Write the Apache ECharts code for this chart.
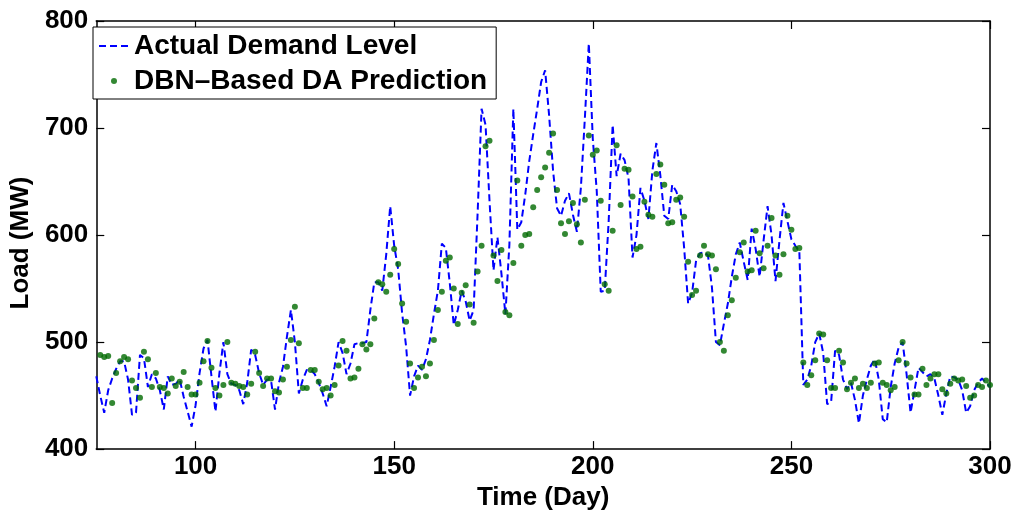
<!DOCTYPE html>
<html>
<head>
<meta charset="utf-8">
<script src="https://cdn.jsdelivr.net/npm/echarts@6/dist/echarts.min.js"></script>
<style>
html,body{margin:0;padding:0;background:#fff;}
#chart{width:1018px;height:516px;}
</style>
</head>
<body>
<div id="chart"></div>
<script>
// ---- data ----
const actualStartDay = 75;
const predStartDay = 76;
const actualLoad = [
  468,450,434,455,466,475,482,482,465,432,434,488,485,458,470,466,455,437,468,460,461,465,449,435,421,441,471,494,502,468,435,471,500,470,461,460,455,442,
  462,493,488,471,460,465,464,437,462,477,505,530,500,452,465,474,474,470,462,452,440,458,477,500,490,470,480,498,499,499,500,530,556,556,548,582,627,
  590,568,527,496,450,468,478,474,484,502,526,548,592,588,555,516,530,548,538,520,530,620,718,703,632,567,598,564,526,591,718,605,612,638,669,694,718,743,754,
  712,660,625,618,632,639,619,603,644,709,779,690,641,547,548,613,703,655,676,670,653,579,600,644,632,615,660,686,656,618,615,647,641,629,588,536,546,
  576,583,584,581,551,500,497,517,536,561,582,593,575,558,606,587,561,595,627,600,557,595,630,613,596,590,585,
  460,465,478,500,508,490,442,444,492,488,465,456,462,446,424,450,465,478,484,465,428,425,458,480,495,500,470,434,455,476,472,468,470,466,450,432,452,468,467,465,455,434,440,455,462,466,462,458
];
const predictedLoad = [
  488,486,487,443,471,482,486,484,464,457,448,491,484,458,471,458,457,452,466,459,463,472,458,451,451,462,482,501,476,457,450,460,500,462,461,459,458,
  451,461,491,471,459,466,466,454,453,465,477,502,533,499,457,457,474,474,463,456,457,450,460,478,501,492,466,467,475,498,493,498,522,556,554,547,563,587,
  573,536,519,480,457,467,477,468,480,502,530,547,576,579,550,517,546,553,535,518,566,590,683,688,581,557,586,528,525,574,651,590,600,601,626,642,654,663,
  677,695,642,611,601,613,630,610,593,633,693,675,679,632,554,548,604,684,628,662,661,636,587,589,631,619,617,657,666,647,611,612,633,635,617,575,544,548,
  581,590,582,581,568,500,492,525,539,560,584,593,566,567,604,583,569,590,616,581,563,582,618,605,587,588,481,460,469,483,508,507,483,457,457,492,481,
  456,462,466,457,461,457,462,480,481,462,460,455,458,483,500,480,467,451,451,475,460,466,470,470,456,452,461,466,464,465,459,448,450,460,458,464,460
];
const xTickValues = [100, 150, 200, 250, 300];
const yTickValues = [400, 500, 600, 700, 800];
const seriesNames = ['Actual Demand Level', 'DBN\u2013Based DA Prediction'];
const axisTitles = { x: 'Time (Day)', y: 'Load (MW)' };

// ---- build ----
const actualData = actualLoad.map((v, i) => [actualStartDay + i, v]);
const predData = predictedLoad.map((v, i) => [predStartDay + i, v]);

const FONT = 'Liberation Sans, Arial, Helvetica, sans-serif';
const chart = echarts.init(document.getElementById('chart'), null, {renderer: 'canvas'});

const axisLine = {show: true, lineStyle: {color: '#000', width: 1.5}};
const tick = (vals) => ({show: true, inside: true, length: 8, customValues: vals, lineStyle: {color: '#000', width: 1.2}});

chart.setOption({
  animation: false,
  backgroundColor: '#fff',
  grid: {left: 95, right: 28, top: 21, bottom: 63},
  legend: {
    left: 93, top: 27,
    orient: 'vertical',
    backgroundColor: '#fff',
    borderColor: '#000',
    borderWidth: 1,
    borderRadius: 0,
    padding: [5, 9, 4, 5],
    itemGap: 7,
    itemWidth: 30,
    itemHeight: 6,
    selectedMode: false,
    textStyle: {fontFamily: FONT, fontSize: 28, fontWeight: 'bold', color: '#000'},
    data: [
      {name: seriesNames[0], itemStyle: {opacity: 0, color: 'rgba(0,0,0,0)'}},
      {name: seriesNames[1], icon: 'circle'}
    ]
  },
  xAxis: [
    {
      type: 'value', min: 75, max: 300, position: 'bottom',
      name: axisTitles.x, nameLocation: 'middle', nameGap: 34,
      nameTextStyle: {fontFamily: FONT, fontSize: 26, fontWeight: 'bold', color: '#000'},
      axisLine: axisLine,
      axisTick: tick(xTickValues),
      splitLine: {show: false},
      axisLabel: {customValues: xTickValues, fontFamily: FONT, fontSize: 26, fontWeight: 'bold', color: '#000', margin: 5}
    },
    {
      type: 'value', min: 75, max: 300, position: 'top',
      axisLine: axisLine,
      axisTick: tick(xTickValues),
      splitLine: {show: false},
      axisLabel: {show: false}
    }
  ],
  yAxis: [
    {
      type: 'value', min: 400, max: 800, interval: 100, position: 'left',
      name: axisTitles.y, nameLocation: 'middle', nameGap: 58, nameRotate: 90,
      nameTextStyle: {fontFamily: FONT, fontSize: 26, fontWeight: 'bold', color: '#000', padding: [0, 16, 0, 0]},
      axisLine: axisLine,
      axisTick: tick(yTickValues),
      splitLine: {show: false},
      axisLabel: {customValues: yTickValues, fontFamily: FONT, fontSize: 26, fontWeight: 'bold', color: '#000', margin: 8}
    },
    {
      type: 'value', min: 400, max: 800, interval: 100, position: 'right',
      axisLine: axisLine,
      axisTick: tick(yTickValues),
      splitLine: {show: false},
      axisLabel: {show: false}
    }
  ],
  series: [
    {
      name: seriesNames[0],
      type: 'line',
      data: actualData,
      symbol: 'none',
      showSymbol: false,
      lineStyle: {color: '#0000ff', width: 2, type: [7, 4]},
      itemStyle: {color: '#0000ff'},
      z: 2
    },
    {
      name: seriesNames[1],
      type: 'scatter',
      data: predData,
      symbol: 'circle',
      symbolSize: 6,
      itemStyle: {color: '#006a00'},
      z: 3
    }
  ]
});
</script>
</body>
</html>
